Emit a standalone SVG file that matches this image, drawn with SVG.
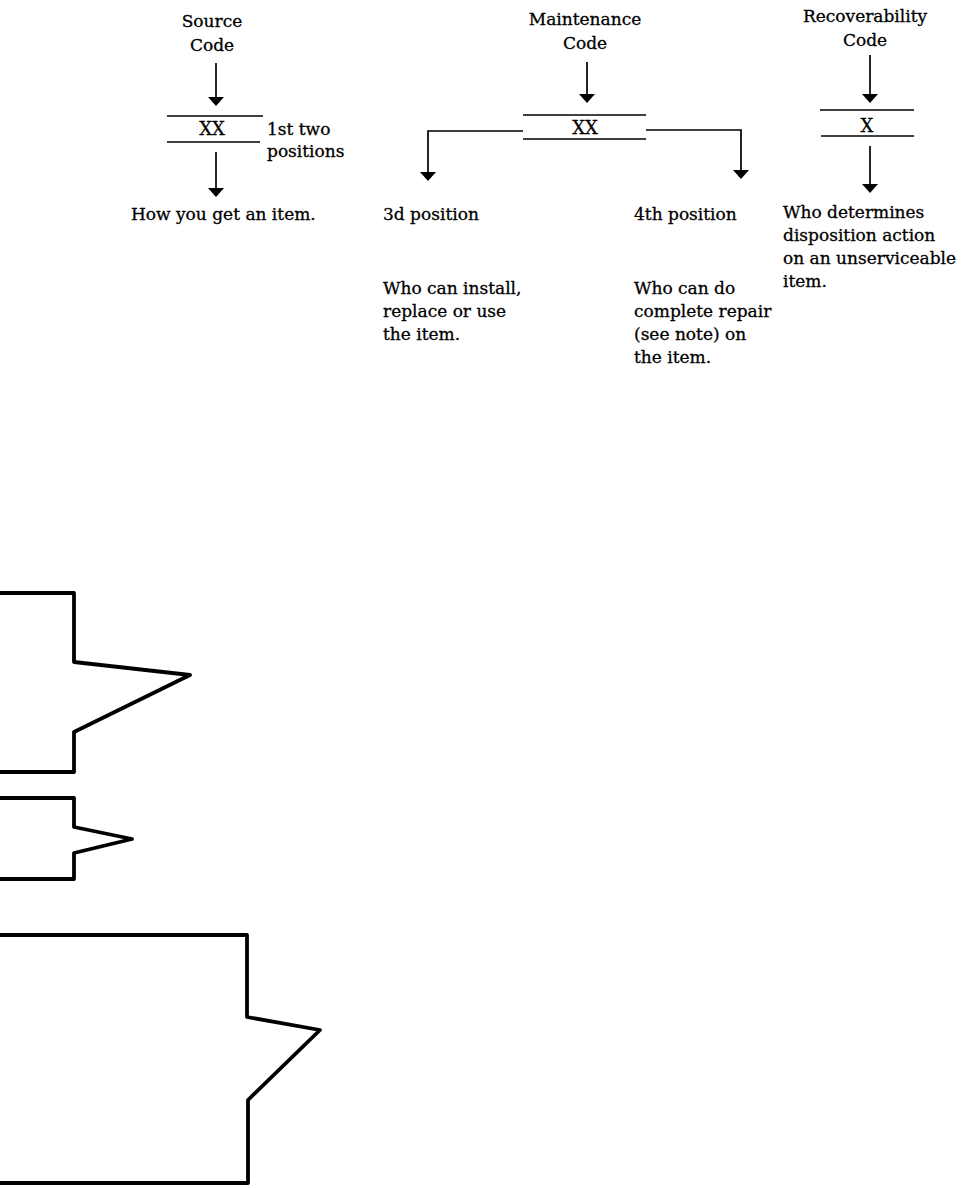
<svg xmlns="http://www.w3.org/2000/svg" width="963" height="1188" viewBox="0 0 963 1188">
<style>
text{font-family:"DejaVu Serif","Liberation Serif",serif;font-size:17px;fill:#000;stroke:#000;stroke-width:0.3}
.c{text-anchor:middle}
.xx{font-size:18px}
.bar{stroke:#000;stroke-width:1.7;fill:none}
.con{stroke:#000;stroke-width:1.7;fill:none}
.shape{stroke:#000;stroke-width:3.8;fill:none;stroke-linejoin:round;stroke-linecap:round}
</style>
<defs>
<marker id="ah" markerUnits="userSpaceOnUse" markerWidth="10" markerHeight="18" viewBox="0 -9 10 18" refX="0" refY="0" orient="auto">
<path d="M0,-8 L9,0 L0,8 Z" fill="#000"/>
</marker>
</defs>
<rect width="963" height="1188" fill="#fff"/>

<g id="source-code">
<text class="c" x="212" y="27">Source</text>
<text class="c" x="212" y="51">Code</text>
<line class="bar" x1="167" y1="116" x2="263" y2="116"/>
<text class="c xx" x="212" y="135">XX</text>
<line class="bar" x1="167" y1="142" x2="260" y2="142"/>
<text x="267" y="135">1st two</text>
<text x="267" y="157">positions</text>
</g>
<g id="source-meaning">
<text x="131" y="220">How you get an item.</text>
</g>

<g id="maintenance-code">
<text class="c" x="585" y="25">Maintenance</text>
<text class="c" x="585" y="49">Code</text>
<line class="bar" x1="523" y1="115" x2="646" y2="115"/>
<text class="c xx" x="585" y="134">XX</text>
<line class="bar" x1="523" y1="139" x2="646" y2="139"/>
</g>
<g id="third-position">
<text x="383" y="220">3d position</text>
<text x="383" y="294">Who can install,</text>
<text x="383" y="317">replace or use</text>
<text x="383" y="340">the item.</text>
</g>
<g id="fourth-position">
<text x="634" y="220">4th position</text>
<text x="634" y="294">Who can do</text>
<text x="634" y="317">complete repair</text>
<text x="634" y="340">(see note) on</text>
<text x="634" y="363">the item.</text>
</g>

<g id="recoverability-code">
<text class="c" x="865" y="22">Recoverability</text>
<text class="c" x="865" y="46">Code</text>
<line class="bar" x1="820" y1="110" x2="914" y2="110"/>
<text class="c xx" x="867" y="132">X</text>
<line class="bar" x1="821" y1="136" x2="914" y2="136"/>
</g>
<g id="recoverability-meaning">
<text x="783" y="218">Who determines</text>
<text x="783" y="241">disposition action</text>
<text x="783" y="264">on an unserviceable</text>
<text x="783" y="287">item.</text>
</g>

<g id="connectors">
<line class="con" x1="216" y1="63" x2="216" y2="97" marker-end="url(#ah)"/>
<line class="con" x1="216" y1="152" x2="216" y2="188" marker-end="url(#ah)"/>
<line class="con" x1="587" y1="62" x2="587" y2="94" marker-end="url(#ah)"/>
<polyline class="con" points="523,131 428,131 428,172" marker-end="url(#ah)"/>
<polyline class="con" points="646,130 741,130 741,170" marker-end="url(#ah)"/>
<line class="con" x1="870" y1="55" x2="870" y2="94" marker-end="url(#ah)"/>
<line class="con" x1="870" y1="146" x2="870" y2="184" marker-end="url(#ah)"/>
</g>

<g id="bracket-shapes">
<path class="shape" d="M0,593 H74 V662 L190,675 L74,732 V772 H0"/>
<path class="shape" d="M0,798 H74 V827 L132,839 L74,853 V879 H0"/>
<path class="shape" d="M0,935 H247 V1017 L320,1030 L248,1100 V1183 H0"/>
</g>
</svg>
